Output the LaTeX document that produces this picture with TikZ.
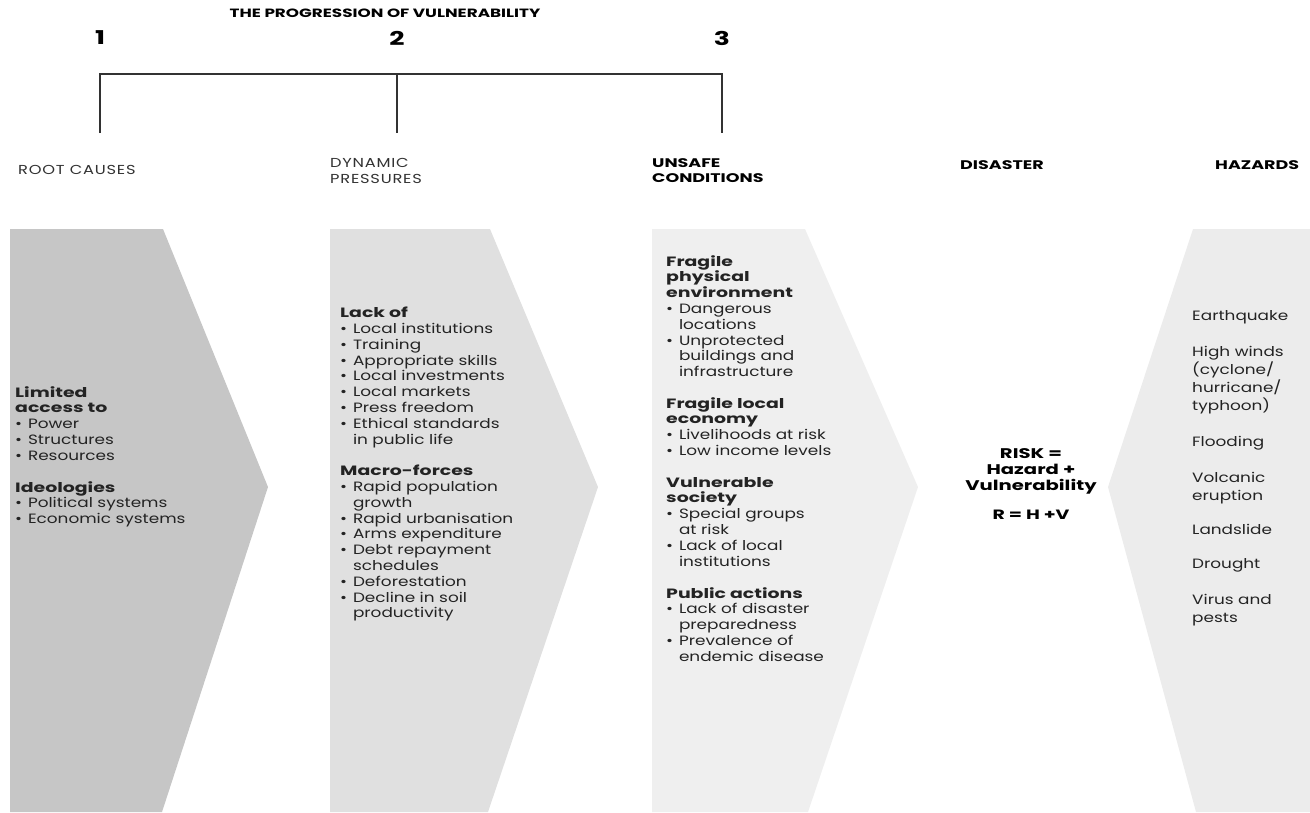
\documentclass[tikz,border=0pt]{standalone}
\usepackage{fontspec}
\setmainfont{Poppins}[UprightFeatures={FakeStretch=1.25}, BoldFeatures={FakeStretch=1.4}]
\usetikzlibrary{positioning}
\definecolor{rootcolor}{RGB}{198, 198, 198}
\definecolor{pressurecolor}{RGB}{224, 224, 224}
\definecolor{unsafecolor}{RGB}{239, 239, 239}
\definecolor{hazardcolor}{RGB}{236, 236, 236}
\definecolor{bodytext}{RGB}{35, 35, 35}
\definecolor{bracketcolor}{RGB}{50, 50, 50}
\newcommand{\bl}{\makebox[0.95em][l]{\textbullet}}
\newcommand{\ind}{\hspace*{0.95em}}

\begin{document}
\begin{tikzpicture}[x=1pt, y=-1pt,
    listtext/.style={anchor=north west, align=left, inner sep=0pt, text=bodytext, font=\fontsize{13.5}{15.8}\selectfont},
    colhead/.style={anchor=west, align=left, inner sep=0pt, font=\fontsize{12.5}{15}\selectfont\bfseries},
    thinhead/.style={colhead, text=bracketcolor, font=\fontsize{13}{15.5}\selectfont\addfontfeatures{LetterSpace=6}},
    stepnum/.style={inner sep=0pt, font=\fontsize{19}{20}\selectfont\bfseries}]
    \useasboundingbox (0,0) rectangle (1310,812);

    % Chevron bands
    \fill[rootcolor] (10,229) -- (163,229) -- (268,487) -- (162,812) -- (10,812) -- cycle;
    \fill[pressurecolor] (330,229) -- (490,229) -- (598,487) -- (488,812) -- (330,812) -- cycle;
    \fill[unsafecolor] (652,229) -- (805,229) -- (918,487) -- (808,812) -- (652,812) -- cycle;
    \fill[hazardcolor] (1193,229) -- (1310,229) -- (1310,812) -- (1196,812) -- (1108,487) -- cycle;

    % Title and steps
    \node[inner sep=0pt, font=\fontsize{12}{14}\selectfont\bfseries] (title) at (385,13) {THE PROGRESSION OF VULNERABILITY};
    \node[stepnum] (n1) at (100,38) {1};
    \node[stepnum] (n2) at (397,38) {2};
    \node[stepnum] (n3) at (722,38) {3};

    % Bracket
    \coordinate (b1) at (100,74);
    \coordinate (b2) at (397,74);
    \coordinate (b3) at (722,74);
    \coordinate (f1) at (100,133);
    \coordinate (f2) at (397,133);
    \coordinate (f3) at (722,133);
    \draw[line width=1.7pt, bracketcolor] (f1) -- (b1) -- (b3) -- (f3);
    \draw[line width=1.7pt, bracketcolor] (b2) -- (f2);

    % Column headings
    \node[thinhead] (rootlbl) at (18,170) {ROOT CAUSES};
    \node[thinhead] (dynlbl) at (330,171) {DYNAMIC\\PRESSURES};
    \node[colhead] (unsafelbl) at (652,171) {UNSAFE\\CONDITIONS};
    \node[colhead] (disasterlbl) at (960,165) {DISASTER};
    \node[colhead] (hazardlbl) at (1215,165) {HAZARDS};

    % Root causes
    \node[listtext] (access) at (15,386) {\textbf{Limited}\\\textbf{access to}\\\bl Power\\\bl Structures\\\bl Resources};
    \node[listtext] (ideol) at (15,481) {\textbf{Ideologies}\\\bl Political systems\\\bl Economic systems};

    % Dynamic pressures
    \node[listtext] (lackof) at (340,307) {\textbf{Lack of}\\\bl Local institutions\\\bl Training\\\bl Appropriate skills\\\bl Local investments\\\bl Local markets\\\bl Press freedom\\\bl Ethical standards\\\ind in public life};
    \node[listtext] (macro) at (340,465) {\textbf{Macro-forces}\\\bl Rapid population\\\ind growth\\\bl Rapid urbanisation\\\bl Arms expenditure\\\bl Debt repayment\\\ind schedules\\\bl Deforestation\\\bl Decline in soil\\\ind productivity};

    % Unsafe conditions
    \node[listtext] (physenv) at (666,255) {\textbf{Fragile}\\\textbf{physical}\\\textbf{environment}\\\bl Dangerous\\\ind locations\\\bl Unprotected\\\ind buildings and\\\ind infrastructure};
    \node[listtext] (economy) at (666,397) {\textbf{Fragile local}\\\textbf{economy}\\\bl Livelihoods at risk\\\bl Low income levels};
    \node[listtext] (society) at (666,477) {\textbf{Vulnerable}\\\textbf{society}\\\bl Special groups\\\ind at risk\\\bl Lack of local\\\ind institutions};
    \node[listtext] (public) at (666,587) {\textbf{Public actions}\\\bl Lack of disaster\\\ind preparedness\\\bl Prevalence of\\\ind endemic disease};

    % Disaster
    \node[align=center, inner sep=0pt, font=\fontsize{14}{16}\selectfont\bfseries] (risk) at (1031,471) {RISK =\\Hazard +\\Vulnerability};
    \node[inner sep=0pt, font=\fontsize{13.5}{16}\selectfont\bfseries] (formula) at (1031,515) {R = H +V};

    % Hazards
    \node[listtext, font=\fontsize{13.5}{18}\selectfont] (hazlist) at (1192,310) {Earthquake\\[18pt]High winds\\(cyclone/\\hurricane/\\typhoon)\\[18pt]Flooding\\[18pt]Volcanic\\eruption\\[16pt]Landslide\\[16pt]Drought\\[18pt]Virus and\\pests};
\end{tikzpicture}
\end{document}
